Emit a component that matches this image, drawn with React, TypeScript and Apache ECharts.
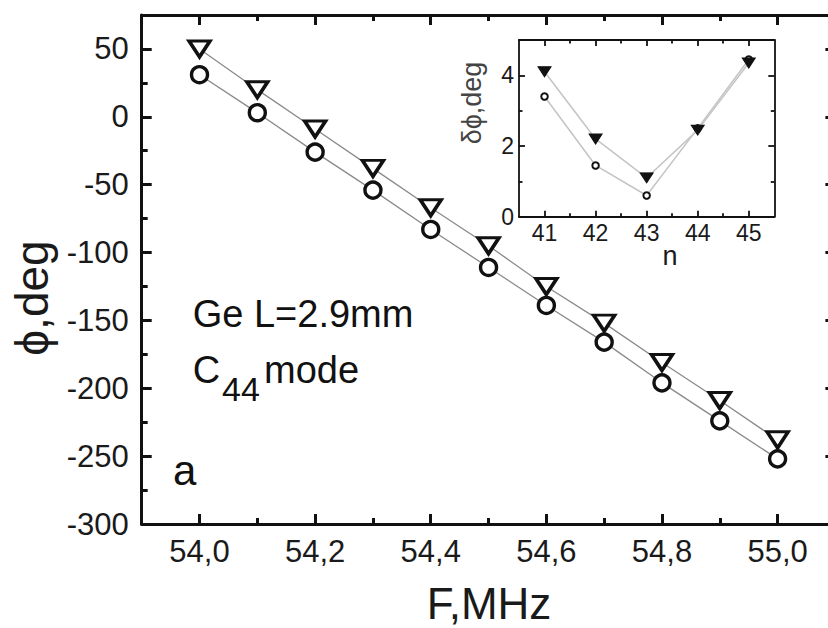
import React, { useEffect, useRef } from "react";
import * as echarts from "echarts";

// ---- data ----
const FREQ = [54.0, 54.1, 54.2, 54.3, 54.4, 54.5, 54.6, 54.7, 54.8, 54.9, 55.0];
const PHI_TRI = [50, 20, -9, -38, -67, -95, -125, -152, -181, -209, -238];
const PHI_CIRC = [31, 3, -26, -54, -83, -111, -139, -166, -196, -224, -252];

const N = [41, 42, 43, 44, 45];
const DPHI_TRI = [4.1, 2.2, 1.1, 2.45, 4.35];
const DPHI_CIRC = [3.4, 1.45, 0.6, 2.5, 4.45];

const X_MAJOR = [54.0, 54.2, 54.4, 54.6, 54.8, 55.0];
const X_MINOR = [54.1, 54.3, 54.5, 54.7, 54.9];
const Y_MAJOR = [-300, -250, -200, -150, -100, -50, 0, 50];
const Y_MINOR = [-275, -225, -175, -125, -75, -25, 25];
const IX_MAJOR = [41, 42, 43, 44, 45];
const IX_MINOR = [41.5, 42.5, 43.5, 44.5];
const IY_MAJOR = [0, 2, 4];
const IY_MINOR = [1, 3];

const FONT = "'Liberation Sans', Arial, 'DejaVu Sans', sans-serif";
const CHART_W = 860;

function axis(
  gridIndex: number,
  position: string,
  min: number,
  max: number,
  ticks: number[],
  tickLen: number,
  lineW: number,
  showLine: boolean,
  label?: { fontSize: number; margin: number; formatter: (v: number) => string; color: string }
) {
  return {
    type: "value",
    gridIndex,
    position,
    min,
    max,
    axisLine: { show: showLine, onZero: false, lineStyle: { color: "#111", width: lineW } },
    axisTick: {
      show: true,
      inside: true,
      length: tickLen,
      customValues: ticks,
      lineStyle: { color: "#111", width: lineW },
    },
    axisLabel: label
      ? {
          show: true,
          customValues: ticks,
          formatter: label.formatter,
          fontSize: label.fontSize,
          margin: label.margin,
          color: label.color,
          fontFamily: FONT,
        }
      : { show: false },
    splitLine: { show: false },
  };
}

const fmtComma = (v: number) => v.toFixed(1).replace(".", ",");
const fmtInt = (v: number) => String(Math.round(v));

export default function App() {
  const ref = useRef<HTMLDivElement>(null);
  useEffect(() => {
    if (!ref.current) return;
    const chart = echarts.init(ref.current, null, { renderer: "svg" });
    const mainLabelX = { fontSize: 31, margin: 12, formatter: fmtComma, color: "#1a1a1a" };
    const mainLabelY = { fontSize: 31, margin: 13, formatter: fmtInt, color: "#1a1a1a" };
    const insetLabel = { fontSize: 23, margin: 5, formatter: fmtInt, color: "#1a1a1a" };

    const option: any = {
      animation: false,
      backgroundColor: "#fff",
      grid: [
        { left: 141.7, top: 15, right: CHART_W - 835.4, bottom: 104, show: false },
        {
          left: 519,
          top: 40,
          width: 255.3,
          height: 176.7,
          show: true,
          backgroundColor: "#fff",
          borderWidth: 0,
          z: 5,
        },
      ],
      xAxis: [
        axis(0, "bottom", 53.9, 55.1, X_MAJOR, 10, 3, true, mainLabelX),
        axis(0, "bottom", 53.9, 55.1, X_MINOR, 6, 3, false),
        axis(0, "top", 53.9, 55.1, X_MAJOR, 10, 3, true),
        axis(0, "top", 53.9, 55.1, X_MINOR, 6, 3, false),
        { ...axis(1, "bottom", 40.5, 45.5, IX_MAJOR, 6, 1.8, true, insetLabel), z: 6 },
        { ...axis(1, "bottom", 40.5, 45.5, IX_MINOR, 3.5, 1.8, false), z: 6 },
        { ...axis(1, "top", 40.5, 45.5, IX_MAJOR, 6, 1.8, true), z: 6 },
        { ...axis(1, "top", 40.5, 45.5, IX_MINOR, 3.5, 1.8, false), z: 6 },
      ],
      yAxis: [
        axis(0, "left", -300, 75, Y_MAJOR, 10, 3, true, mainLabelY),
        axis(0, "left", -300, 75, Y_MINOR, 6, 3, false),
        axis(0, "right", -300, 75, Y_MAJOR, 10, 3, true),
        axis(0, "right", -300, 75, Y_MINOR, 6, 3, false),
        { ...axis(1, "left", 0, 5, IY_MAJOR, 6, 1.8, true, insetLabel), z: 6 },
        { ...axis(1, "left", 0, 5, IY_MINOR, 3.5, 1.8, false), z: 6 },
        { ...axis(1, "right", 0, 5, IY_MAJOR, 6, 1.8, true), z: 6 },
        { ...axis(1, "right", 0, 5, IY_MINOR, 3.5, 1.8, false), z: 6 },
      ],
      series: [
        {
          type: "line",
          xAxisIndex: 0,
          yAxisIndex: 0,
          data: FREQ.map((f, i) => [f, PHI_CIRC[i]]),
          symbol: "circle",
          symbolSize: 16,
          showAllSymbol: true,
          itemStyle: { color: "#fff", borderColor: "#111", borderWidth: 3.4 },
          lineStyle: { color: "#8a8a8a", width: 1.3 },
          z: 2,
        },
        {
          type: "line",
          xAxisIndex: 0,
          yAxisIndex: 0,
          data: FREQ.map((f, i) => [f, PHI_TRI[i]]),
          symbol: "triangle",
          symbolRotate: 180,
          symbolSize: [21, 16],
          showAllSymbol: true,
          itemStyle: { color: "#fff", borderColor: "#111", borderWidth: 3.4 },
          lineStyle: { color: "#8a8a8a", width: 1.3 },
          z: 3,
        },
        {
          type: "line",
          xAxisIndex: 4,
          yAxisIndex: 4,
          data: N.map((n, i) => [n, DPHI_CIRC[i]]),
          symbol: "circle",
          symbolSize: 6.5,
          showAllSymbol: true,
          itemStyle: { color: "#fff", borderColor: "#111", borderWidth: 2 },
          lineStyle: { color: "#c4c4c4", width: 1.5 },
          z: 7,
        },
        {
          type: "line",
          xAxisIndex: 4,
          yAxisIndex: 4,
          data: N.map((n, i) => [n, DPHI_TRI[i]]),
          symbol: "triangle",
          symbolRotate: 180,
          symbolSize: [13, 10],
          showAllSymbol: true,
          itemStyle: { color: "#111", borderColor: "#111", borderWidth: 1 },
          lineStyle: { color: "#c4c4c4", width: 1.5 },
          z: 8,
        },
      ],
      graphic: [
        {
          type: "text",
          x: 32,
          y: 298,
          rotation: Math.PI / 2,
          style: { text: "ϕ,deg", fontSize: 46, fontFamily: FONT, fill: "#1a1a1a", align: "center", verticalAlign: "middle" },
        },
        {
          type: "text",
          x: 489,
          y: 603,
          style: { text: "F,MHz", fontSize: 44, fontFamily: FONT, fill: "#1a1a1a", align: "center", verticalAlign: "middle" },
        },
        {
          type: "text",
          x: 192.7,
          y: 314,
          style: { text: "Ge L=2.9mm", fontSize: 38, fontFamily: FONT, fill: "#111", align: "left", verticalAlign: "middle" },
        },
        {
          type: "text",
          x: 192.7,
          y: 370,
          style: { text: "C", fontSize: 38, fontFamily: FONT, fill: "#111", align: "left", verticalAlign: "middle" },
        },
        {
          type: "text",
          x: 222,
          y: 389,
          style: { text: "44", fontSize: 34, fontFamily: FONT, fill: "#111", align: "left", verticalAlign: "middle" },
        },
        {
          type: "text",
          x: 264,
          y: 370,
          style: { text: "mode", fontSize: 38, fontFamily: FONT, fill: "#111", align: "left", verticalAlign: "middle" },
        },
        {
          type: "text",
          x: 173,
          y: 470,
          style: { text: "a", fontSize: 42, fontFamily: FONT, fill: "#111", align: "left", verticalAlign: "middle" },
        },
        {
          type: "text",
          x: 670,
          y: 256,
          z: 10,
          style: { text: "n", fontSize: 27, fontFamily: FONT, fill: "#1a1a1a", align: "center", verticalAlign: "middle" },
        },
        {
          type: "text",
          x: 472,
          y: 103,
          rotation: Math.PI / 2,
          z: 10,
          style: { text: "δϕ,deg", fontSize: 27, fontFamily: FONT, fill: "#444", align: "center", verticalAlign: "middle" },
        },
      ],
    };
    chart.setOption(option);
    return () => chart.dispose();
  }, []);
  return (
    <div style={{ position: "fixed", left: 0, top: 0, width: 828, height: 628, background: "#fff", overflow: "hidden" }}>
      <div ref={ref} style={{ position: "absolute", left: 0, top: 0, width: CHART_W, height: 628 }} />
    </div>
  );
}
